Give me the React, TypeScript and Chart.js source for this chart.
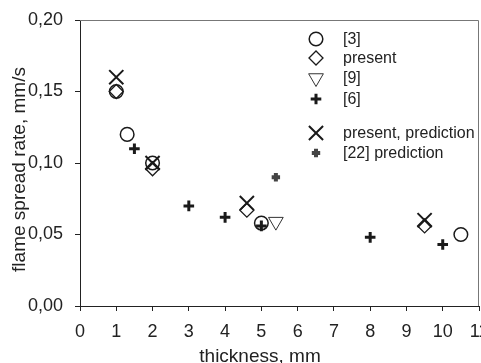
import React, { useEffect, useRef } from "react";
import { Chart, registerables } from "chart.js";
import { drawPoint } from "chart.js/helpers";

Chart.register(...registerables);

const xTicks = [0, 1, 2, 3, 4, 5, 6, 7, 8, 9, 10, 11];
const yTicks = [0, 0.05, 0.1, 0.15, 0.2];

const ref3X = [1, 1.3, 2, 5, 10.5];
const ref3Y = [0.15, 0.12, 0.1, 0.058, 0.05];
const presentX = [1, 2, 4.6, 9.5];
const presentY = [0.15, 0.096, 0.067, 0.056];
const ref9X = [5.4];
const ref9Y = [0.059];
const ref6X = [1.5, 3, 4, 5, 8, 10];
const ref6Y = [0.11, 0.07, 0.062, 0.056, 0.048, 0.043];
const predX = [1, 2, 4.6, 9.5];
const predY = [0.16, 0.1, 0.072, 0.06];
const ref22X = [5.4];
const ref22Y = [0.09];

const labels = ["[3]", "present", "[9]", "[6]", "present, prediction", "[22] prediction"];
const xTitle = "thickness, mm";
const yTitle = "flame spread rate, mm/s";

const INK = "#1a1a1a";
const FONT = "'Liberation Sans', Arial, sans-serif";

const styles: any[] = [
  { pointStyle: "circle", radius: 6.8, borderWidth: 1.5, rotation: 0, color: INK, fill: "rgba(0,0,0,0)" },
  { pointStyle: "rectRot", radius: 7, borderWidth: 1.3, rotation: 0, color: INK, fill: "rgba(0,0,0,0)" },
  { pointStyle: "triangle", radius: 8.5, borderWidth: 1, rotation: 180, color: "#333", fill: "rgba(0,0,0,0)" },
  { pointStyle: "cross", radius: 5.3, borderWidth: 3, rotation: 0, color: INK, fill: INK },
  { pointStyle: "crossRot", radius: 10, borderWidth: 2, rotation: 0, color: INK, fill: INK },
  { pointStyle: "cross", radius: 4.2, borderWidth: 4, rotation: 0, color: "#444", fill: "#444" },
];

const zip = (xs: number[], ys: number[]) => xs.map((x, i) => ({ x, y: ys[i] }));
const fmt = (v: number) => v.toFixed(2).replace(".", ",");

export default function App() {
  const canvasRef = useRef<HTMLCanvasElement>(null);

  useEffect(() => {
    document.body.style.margin = "0";
    const series = [
      zip(ref3X, ref3Y),
      zip(presentX, presentY),
      zip(ref9X, ref9Y),
      zip(ref6X, ref6Y),
      zip(predX, predY),
      zip(ref22X, ref22Y),
    ];
    const datasets = series.map((data, i) => {
      const s = styles[i];
      return {
        label: labels[i],
        data,
        pointStyle: s.pointStyle,
        pointRadius: s.radius,
        pointHoverRadius: s.radius,
        pointBorderWidth: s.borderWidth,
        pointRotation: s.rotation,
        pointBorderColor: s.color,
        pointBackgroundColor: s.fill,
        showLine: false,
      };
    });

    const frameAndLegend = {
      id: "frameAndLegend",
      afterDraw(chart: any) {
        const { ctx, chartArea } = chart;
        ctx.save();
        ctx.strokeStyle = "#777";
        ctx.lineWidth = 1;
        ctx.beginPath();
        ctx.moveTo(chartArea.left, chartArea.top + 0.5);
        ctx.lineTo(chartArea.right - 0.5, chartArea.top + 0.5);
        ctx.lineTo(chartArea.right - 0.5, chartArea.bottom);
        ctx.stroke();

        // legend
        const rowsY = [39, 58, 78, 99, 133, 153];
        const mx = 316;
        const tx = 343;
        ctx.font = `16px ${FONT}`;
        ctx.textBaseline = "middle";
        ctx.textAlign = "left";
        labels.forEach((lab, i) => {
          const s = styles[i];
          ctx.strokeStyle = s.color;
          ctx.fillStyle = s.fill;
          ctx.lineWidth = s.borderWidth;
          drawPoint(ctx, { pointStyle: s.pointStyle, radius: s.radius, rotation: s.rotation, borderWidth: s.borderWidth }, mx, rowsY[i]);
          ctx.fillStyle = "#222";
          ctx.fillText(lab, tx, rowsY[i] + 1);
        });

        // axis titles
        ctx.fillStyle = "#222";
        ctx.font = `19px ${FONT}`;
        ctx.textAlign = "center";
        ctx.textBaseline = "alphabetic";
        ctx.fillText(xTitle, 260, 362);
        ctx.translate(25, 169.5);
        ctx.rotate(-Math.PI / 2);
        ctx.fillText(yTitle, 0, 0);
        ctx.restore();
      },
    };

    const chart = new Chart(canvasRef.current!, {
      type: "scatter",
      data: { datasets },
      options: {
        animation: false,
        responsive: false,
        maintainAspectRatio: false,
        layout: { padding: { top: 20, right: 2, left: 0, bottom: 0 } },
        plugins: { legend: { display: false }, tooltip: { enabled: false } },
        scales: {
          x: {
            type: "linear",
            min: 0,
            max: 11,
            afterBuildTicks: (scale: any) => {
              scale.ticks = xTicks.map((v) => ({ value: v }));
            },
            afterFit: (scale: any) => {
              scale.paddingLeft = 0;
              scale.paddingRight = 0;
              scale.height = 57;
            },
            ticks: {
              color: "#222",
              font: { family: FONT, size: 18 },
              padding: 10,
              maxRotation: 0,
              autoSkip: false,
              callback: (v: any) => String(v),
            },
            grid: { drawOnChartArea: false, drawTicks: true, tickLength: 5, color: "#222" },
            border: { color: "#222", width: 1 },
          },
          y: {
            type: "linear",
            min: 0,
            max: 0.2,
            afterBuildTicks: (scale: any) => {
              scale.ticks = yTicks.map((v) => ({ value: v }));
            },
            afterFit: (scale: any) => {
              scale.width = 80;
              scale.paddingTop = 0;
              scale.paddingBottom = 0;
            },
            ticks: {
              color: "#222",
              font: { family: FONT, size: 18 },
              padding: 12,
              autoSkip: false,
              callback: (v: any) => fmt(Number(v)),
            },
            grid: { drawOnChartArea: false, drawTicks: true, tickLength: 5, color: "#222" },
            border: { color: "#222", width: 1 },
          },
        },
      },
      plugins: [frameAndLegend],
    });

    // let the last tick label ("11") run past the window edge, as in the reference
    const dr = 479 - chart.chartArea.right;
    if (Math.abs(dr) > 0.5) {
      chart.resize(Math.round(481 + dr), 363);
    }

    return () => chart.destroy();
  }, []);

  return (
    <div style={{ width: 481, height: 363, overflow: "hidden", background: "#fff", position: "relative" }}>
      <div style={{ width: 560, height: 363 }}>
        <canvas ref={canvasRef} width={481} height={363} style={{ display: "block" }} />
      </div>
    </div>
  );
}
